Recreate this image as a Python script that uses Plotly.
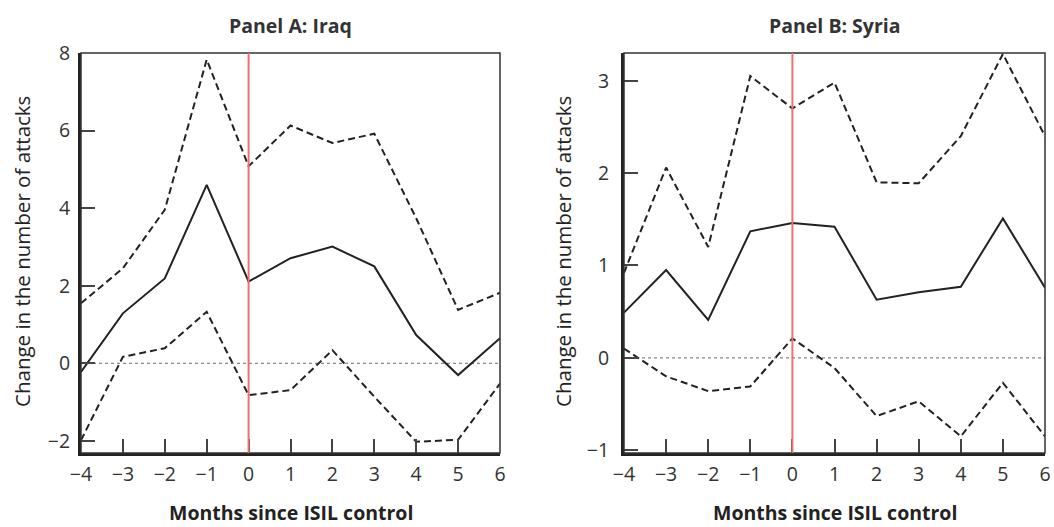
import plotly.graph_objects as go

months = [-4, -3, -2, -1, 0, 1, 2, 3, 4, 5, 6]

iraq_est = [-0.22, 1.29, 2.19, 4.60, 2.11, 2.71, 3.01, 2.50, 0.73, -0.30, 0.65]
iraq_upper = [1.55, 2.45, 3.96, 7.83, 5.08, 6.13, 5.68, 5.92, 3.74, 1.38, 1.82]
iraq_lower = [-1.98, 0.17, 0.39, 1.33, -0.82, -0.69, 0.34, -0.86, -2.02, -1.97, -0.52]

syria_est = [0.49, 0.95, 0.41, 1.37, 1.46, 1.42, 0.63, 0.71, 0.77, 1.51, 0.76]
syria_upper = [0.92, 2.06, 1.20, 3.05, 2.70, 2.98, 1.90, 1.89, 2.40, 3.29, 2.40]
syria_lower = [0.10, -0.20, -0.36, -0.31, 0.21, -0.11, -0.63, -0.47, -0.85, -0.27, -0.85]

iraq_yticks = [-2, 0, 2, 4, 6, 8]
syria_yticks = [-1, 0, 1, 2, 3]

FONT = "Open Sans"
W, H = 1054, 527

fig = go.Figure()

panels = [
    dict(x="x", y="y", est=iraq_est, up=iraq_upper, lo=iraq_lower),
    dict(x="x2", y="y2", est=syria_est, up=syria_upper, lo=syria_lower),
]
for p in panels:
    fig.add_trace(go.Scatter(x=months, y=p["up"], mode="lines", xaxis=p["x"], yaxis=p["y"],
                             line=dict(color="#222", width=2, dash="7px,4px"), showlegend=False))
    fig.add_trace(go.Scatter(x=months, y=p["est"], mode="lines", xaxis=p["x"], yaxis=p["y"],
                             line=dict(color="#222", width=2), showlegend=False))
    fig.add_trace(go.Scatter(x=months, y=p["lo"], mode="lines", xaxis=p["x"], yaxis=p["y"],
                             line=dict(color="#222", width=2, dash="7px,4px"), showlegend=False))

ydomain = [(H - 453) / H, (H - 53) / H]
xd1 = [81 / W, 500 / W]
xd2 = [624 / W, 1045 / W]

axis_common = dict(showline=True, linecolor="#222", linewidth=3, ticks="inside", ticklen=14,
                   tickwidth=2, tickcolor="#444", showgrid=False, zeroline=False, automargin=False,
                   tickfont=dict(family=FONT, size=19.5, color="#333"))

fig.update_layout(
    template="none",
    width=W, height=H, margin=dict(l=0, r=0, t=0, b=0),
    plot_bgcolor="white", paper_bgcolor="white",
    xaxis=dict(domain=xd1, range=[-4, 6], tickvals=months, anchor="y", ticklabelstandoff=2, **axis_common),
    yaxis=dict(domain=ydomain, range=[-2.31, 8.0], tickvals=iraq_yticks, anchor="x",
               ticklabelstandoff=4, **axis_common),
    xaxis2=dict(domain=xd2, range=[-4, 6], tickvals=months, anchor="y2", ticklabelstandoff=2, **axis_common),
    yaxis2=dict(domain=ydomain, range=[-1.03, 3.3], tickvals=syria_yticks, anchor="x2",
                ticklabelstandoff=8, **axis_common),
)

shapes = []
for xr, yr in [("x", "y"), ("x2", "y2")]:
    shapes.append(dict(type="rect", xref=f"{xr} domain", yref=f"{yr} domain", x0=0, x1=1, y0=0, y1=1,
                       line=dict(color="#333", width=1.5), layer="above"))
    shapes.append(dict(type="line", xref=f"{xr} domain", yref=yr, x0=0, x1=1, y0=0, y1=0,
                       line=dict(color="#888", width=1.2, dash="dot"), layer="below"))
    shapes.append(dict(type="line", xref=xr, yref=f"{yr} domain", x0=0, x1=0, y0=0, y1=1,
                       line=dict(color="#f07070", width=2), layer="above"))
fig.update_layout(shapes=shapes)

ann = []
for title, xd in [("Panel A: Iraq", xd1), ("Panel B: Syria", xd2)]:
    cx = (xd[0] + xd[1]) / 2
    ann.append(dict(text=f"<b>{title}</b>", x=cx, y=1 - 25 / H, xref="paper", yref="paper",
                    showarrow=False, font=dict(family=FONT, size=19.5, color="#333"),
                    xanchor="center", yanchor="middle"))
    ann.append(dict(text="<b>Months since ISIL control</b>", x=cx, y=1 - 512 / H, xref="paper", yref="paper",
                    showarrow=False, font=dict(family=FONT, size=19.5, color="#222"),
                    xanchor="center", yanchor="middle"))
for xc in [22, 563]:
    ann.append(dict(text="Change in the number of attacks", x=xc / W, y=1 - 252 / H, xref="paper", yref="paper",
                    textangle=-90, showarrow=False, font=dict(family=FONT, size=20.5, color="#222"),
                    xanchor="center", yanchor="middle"))
fig.update_layout(annotations=ann)

fig.write_html("out.html", config={"displayModeBar": False},
               post_script="document.body.style.margin='0';document.body.style.overflow='hidden';")
